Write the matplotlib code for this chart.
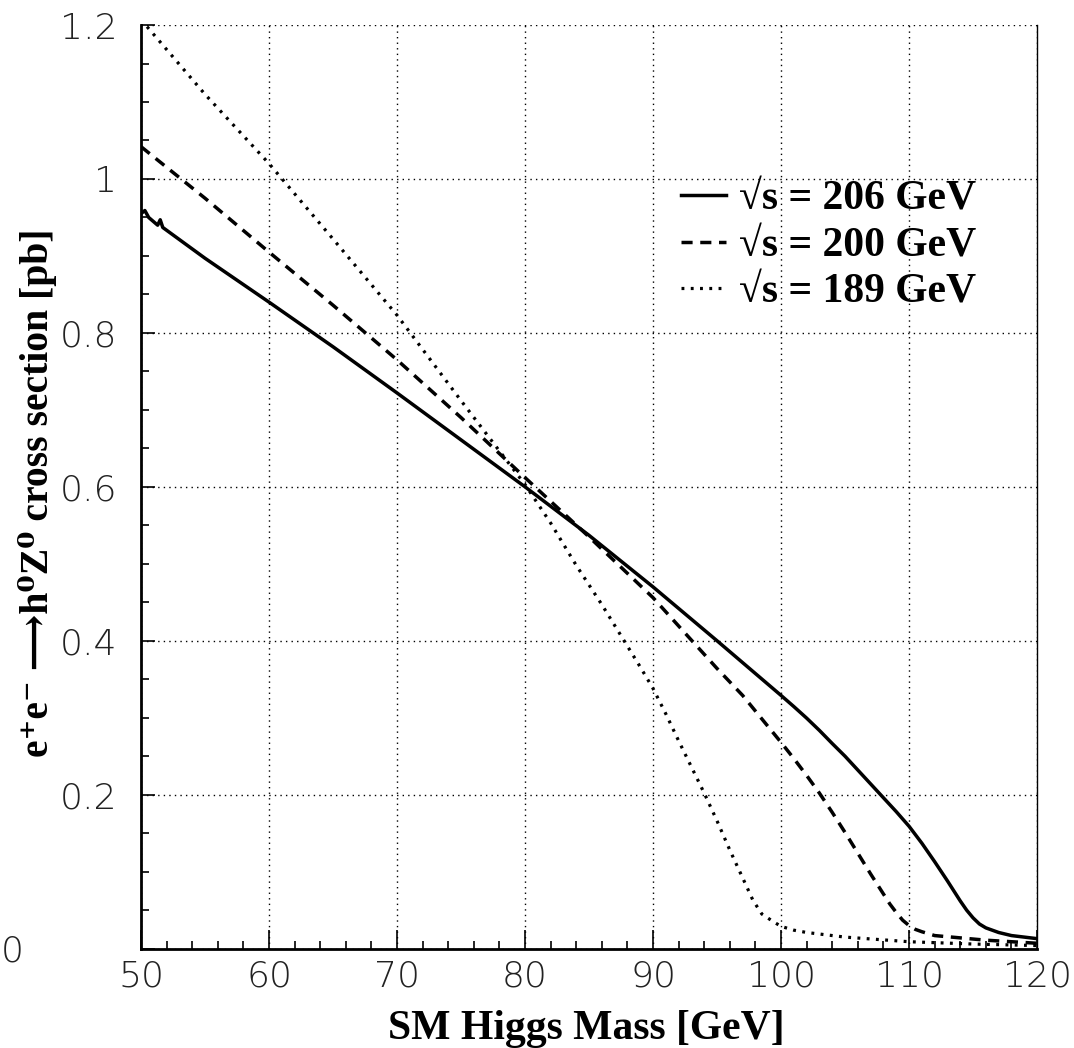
import matplotlib
matplotlib.use('Agg')
import matplotlib.pyplot as plt
from matplotlib.ticker import MultipleLocator, FuncFormatter

# sqrt(s) = 206 GeV
m206 = [50.0, 50.3, 50.6, 51.3, 51.5, 51.7, 55, 60, 65, 70, 75, 80, 85, 90, 95,
        100, 101, 102, 103, 104, 105, 106, 107, 108, 109, 110, 111, 112, 113,
        114, 114.5, 115, 115.5, 116, 117, 118, 119, 120]
xs206 = [0.955, 0.959, 0.950, 0.940, 0.947, 0.937, 0.897, 0.840, 0.782, 0.722,
         0.661, 0.600, 0.537, 0.470, 0.400, 0.329, 0.3145, 0.2995, 0.2835, 0.2665,
         0.250, 0.232, 0.214, 0.196, 0.178, 0.159, 0.137, 0.113, 0.088, 0.062,
         0.050, 0.040, 0.032, 0.027, 0.021, 0.017, 0.015, 0.013]

# sqrt(s) = 200 GeV
m200 = [50, 55, 60, 65, 70, 75, 80, 85, 90, 95, 97, 100, 101, 102, 103, 104, 105,
        106, 107, 108, 108.5, 109, 109.5, 110, 110.5, 111, 112, 114, 116, 118, 120]
xs200 = [1.042, 0.975, 0.905, 0.836, 0.765, 0.690, 0.612, 0.535, 0.456, 0.364,
         0.329, 0.268, 0.247, 0.225, 0.202, 0.177, 0.151, 0.124, 0.097, 0.071,
         0.058, 0.047, 0.037, 0.030, 0.025, 0.022, 0.017, 0.014, 0.011, 0.009,
         0.007]

# sqrt(s) = 189 GeV
m189 = [50, 55, 60, 65, 70, 75, 80, 82, 84, 86, 88, 89, 90, 91, 92, 93, 94, 95,
        96, 97, 97.8, 98.5, 99.4, 100, 101, 102, 105, 110, 115, 120]
xs189 = [1.207, 1.11, 1.02, 0.922, 0.823, 0.712, 0.603, 0.553, 0.498, 0.447,
         0.393, 0.366, 0.338, 0.305, 0.270, 0.236, 0.202, 0.166, 0.128, 0.092,
         0.063, 0.045, 0.035, 0.029, 0.024, 0.021, 0.015, 0.009, 0.006, 0.004]

labels = ['\u221as = 206 GeV', '\u221as = 200 GeV', '\u221as = 189 GeV']

fig = plt.figure(figsize=(10.74, 10.48), dpi=100)
ax = fig.add_axes([0.1313, 0.0948, 0.8343, 0.8813])

ax.plot(m206, xs206, color='black', lw=2.5, ls='-', label=labels[0])
ax.plot(m200, xs200, color='black', lw=2.5, ls=(0, (3.2, 2.2)), label=labels[1])
ax.plot(m189, xs189, color='black', lw=2.3, ls=(0, (0.9, 2.0)), label=labels[2])

ax.set_xlim(50, 120)
ax.set_ylim(0, 1.2)

ax.xaxis.set_major_locator(MultipleLocator(10))
ax.xaxis.set_minor_locator(MultipleLocator(2))
ax.yaxis.set_major_locator(MultipleLocator(0.2))
ax.yaxis.set_minor_locator(MultipleLocator(0.05))
ax.yaxis.set_major_formatter(FuncFormatter(lambda v, p: '' if abs(v) < 1e-9 else '%g' % round(v, 2)))

ax.grid(True, which='major', color='black', ls=(0, (1, 3)), lw=1.0)

ax.tick_params(axis='x', which='major', direction='in', length=13.5, width=1.2, pad=8)
ax.tick_params(axis='x', which='minor', direction='in', length=6, width=1.2)
ax.tick_params(axis='y', which='major', direction='in', length=10, width=1.2, pad=17)
ax.tick_params(axis='y', which='minor', direction='in', length=6, width=1.2)
tick_font = dict(family=['DejaVu Sans'], fontweight='ultralight', fontsize=26, color='#222222')
for lab in ax.get_xticklabels() + ax.get_yticklabels():
    lab.set_family(tick_font['family'])
    lab.set_fontweight(tick_font['fontweight'])
    lab.set_fontsize(tick_font['fontsize'])
    lab.set_color(tick_font['color'])
# ROOT puts the y origin label far out to the left
ax.text(-0.1306, -0.004, '0', transform=ax.get_yaxis_transform(), ha='right', va='center',
        **tick_font)

ax.spines['left'].set_linewidth(2)
ax.spines['bottom'].set_linewidth(2)
ax.spines['top'].set_visible(False)
ax.spines['right'].set_linewidth(1)

ax.set_xlabel('SM Higgs Mass [GeV]', family='Liberation Serif', fontweight='bold',
              fontsize=30)
ax.xaxis.set_label_coords(0.497, -0.066)
ax.set_ylabel('e\u207ae\u207b \u27f6h\u2070Z\u2070 cross section [pb]',
              family=['Liberation Serif', 'DejaVu Serif', 'DejaVu Sans'],
              fontweight='bold', fontsize=28.5)
ax.yaxis.set_label_coords(-0.094, 0.494)

leg = ax.legend(loc='upper left', bbox_to_anchor=(0.579, 0.854), frameon=False,
                prop={'family': ['Liberation Serif', 'DejaVu Serif'], 'weight': 'bold', 'size': 30},
                handlelength=1.1, handletextpad=0.3, labelspacing=0.2, borderpad=0)

fig.savefig('out.png', dpi=100)
